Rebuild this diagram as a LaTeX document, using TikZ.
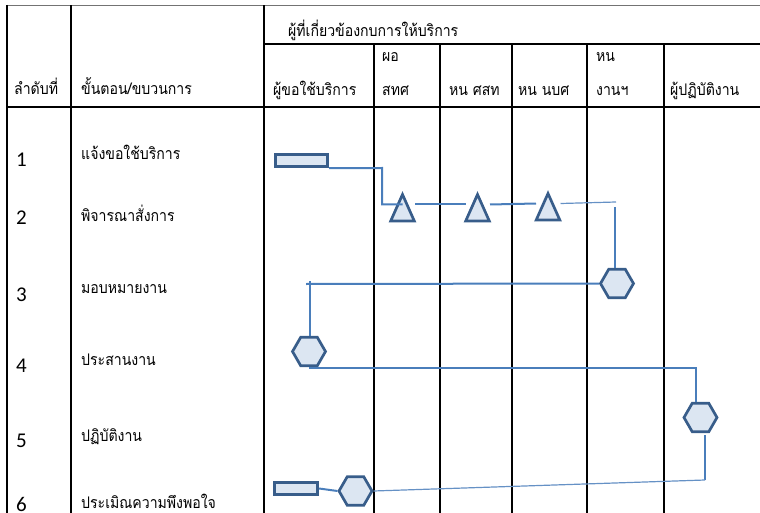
\documentclass[tikz,border=0pt]{standalone}
\usepackage{fontspec}
\newfontfamily\thaifont[Script=Thai, FakeStretch=0.88]{Loma}
\newfontfamily\numfont{Carlito}
\usetikzlibrary{shapes.geometric}
\definecolor{shapefill}{HTML}{DCE6F2}
\definecolor{shapeedge}{HTML}{385D8A}
\definecolor{linkblue}{HTML}{4A7EBB}
\tikzset{
  grid/.style={line width=1.1pt, black},
  txt/.style={anchor=base west, inner sep=0pt, font=\thaifont\fontsize{16}{18}\selectfont},
  numtxt/.style={anchor=base west, inner sep=0pt, font=\numfont\fontsize{21}{24}\selectfont},
  shapebox/.style={draw=shapeedge, fill=shapefill, line width=2.7pt, inner sep=0pt},
  rectbox/.style={shapebox, rectangle, minimum height=12.5pt},
  hexbox/.style={shapebox, regular polygon, regular polygon sides=6, minimum size=33pt},
  tri/.pic={
    \draw[draw=shapeedge, fill=shapefill, line width=2.7pt]
      (0,0) -- (11.8,26.5) -- (-11.8,26.5) -- cycle;
    \coordinate (-c) at (0,10);
    \coordinate (-l) at (-12,10);
    \coordinate (-r) at (12.5,10);
  },
  link/.style={linkblue, line width=2pt},
  thinlink/.style={linkblue!85, line width=1.2pt},
}
\begin{document}
\begin{tikzpicture}[x=1pt, y=-1pt]
\useasboundingbox (0,0) rectangle (760,513);

% table rules
\draw[black!55, line width=1.5pt] (7,5.5) -- (760,5.5);
\draw[black, line width=2.6pt] (7,5) -- (7,513);
\draw[grid] (71,5.5) -- (71,513);
\draw[grid] (264,5.5) -- (264,513);
\draw[black, line width=1.8pt] (264,44) -- (760,44);
\foreach \xc in {374,440,512,587,664} \draw[grid] (\xc,44) -- (\xc,513);
\draw[black, line width=1.6pt] (7,107) -- (760,107);

% header
\node[txt] (hNo) at (14,95) {ลำดับที่};
\node[txt] (hStep) at (81,95) {ขั้นตอน/ขบวนการ};
\node[txt] (hAll) at (288,37) {ผู้ที่เกี่ยวข้องกบการให้บริการ};
\node[txt] (hUser) at (273,96) {ผู้ขอใช้บริการ};
\node[txt] (hDirA) at (382,62) {ผอ};
\node[txt] (hDirB) at (382,96) {สทศ};
\node[txt] (hSst) at (449,96) {หน ศสท};
\node[txt] (hNbs) at (518,96) {หน นบศ};
\node[txt] (hWorkA) at (596,62) {หน};
\node[txt] (hWorkB) at (596,96) {งานฯ};
\node[txt] (hStaff) at (670,96) {ผู้ปฏิบัติงาน};

% rows
\node[numtxt] (n1) at (16,167) {1};
\node[numtxt] (n2) at (16,225) {2};
\node[numtxt] (n3) at (16,301) {3};
\node[numtxt] (n4) at (16,372) {4};
\node[numtxt] (n5) at (16,447) {5};
\node[numtxt] (n6) at (16,511) {6};
\node[txt] (s1) at (81,160) {แจ้งขอใช้บริการ};
\node[txt] (s2) at (81,222) {พิจารณาสั่งการ};
\node[txt] (s3) at (81,293) {มอบหมายงาน};
\node[txt] (s4) at (81,365) {ประสานงาน};
\node[txt] (s5) at (81,441) {ปฏิบัติงาน};
\node[txt] (s6) at (81,508) {ประเมิณความพึงพอใจ};

% flow symbols
\node[rectbox, minimum width=52.5pt] (r1) at (301.5,160.5) {};
\pic (t1) at (402.5,194.5) {tri};
\pic (t2) at (477.5,194.5) {tri};
\pic (t3) at (548,193.5) {tri};
\node[hexbox] (h3) at (617,283.5) {};
\node[hexbox] (h4) at (309,351.5) {};
\node[hexbox] (h5) at (700.5,417.5) {};
\node[hexbox] (h6) at (355.5,491) {};
\node[rectbox, minimum width=43.5pt] (r6) at (296,488.5) {};

% connectors
\coordinate (k1) at (382,168);
\coordinate (k4a) at (616,202);
\coordinate (k4b) at (615,207);
\coordinate (k5a) at (306,284);
\coordinate (k5b) at (310,281);
\coordinate (k6) at (696,368);
\coordinate (k7) at (705,480);
\draw[link] (r1.south east) -- (k1) |- (t1-c);
\draw[link] (t1-r) -- (t2-l);
\draw[link] (t2-r) -- (t3-l);
\draw[thinlink] (t3-r) -- (k4a);
\draw[link] (k4b) -- (k4b |- h3.north);
\draw[link] (h3.west) -- (k5a);
\draw[link] (k5b) -- (k5b |- h4.north);
\draw[link] (h4.south |- k6) -- (k6) -- (k6 |- h5.north);
\draw[link] ([xshift=4.5pt,yshift=-2pt]h5.south) -- (k7);
\draw[thinlink] (k7) -- (h6.east);
\draw[link] (r6.east) -- (h6.west);
\end{tikzpicture}
\end{document}
